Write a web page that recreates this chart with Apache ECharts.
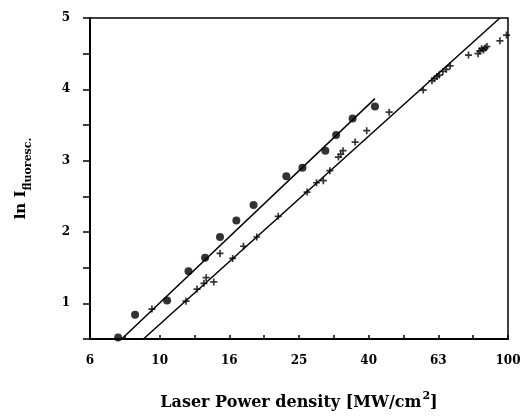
<!DOCTYPE html>
<html>
<head>
<meta charset="utf-8">
<script src="https://cdn.jsdelivr.net/npm/echarts@6/dist/echarts.min.js"></script>
<style>html,body{margin:0;padding:0;background:#fff;}#c{width:526px;height:416px;}</style>
</head>
<body>
<div id="c"></div>
<script>
// Laser power density (MW/cm^2) and ln I_fluoresc.
var circleX = [7.6, 8.5, 10.5, 12.1, 13.5, 14.9, 16.6, 18.6, 23.1, 25.7, 29.9, 32.1, 35.8, 41.5];
var circleY = [0.52, 0.84, 1.04, 1.45, 1.64, 1.93, 2.16, 2.38, 2.78, 2.90, 3.14, 3.36, 3.59, 3.76];
var plusX = [9.5, 11.9, 12.8, 13.4, 13.6, 14.3, 14.9, 16.2, 17.4, 19.0, 21.9, 26.5, 28.2, 29.5, 30.8, 32.6, 33.1, 33.6, 36.4, 39.3, 45.6, 57.1, 60.5, 61.5, 62.5, 63.5, 65, 66.5, 68.2, 77, 82, 83, 84, 85, 86, 87, 94.8, 99];
var plusY = [0.92, 1.03, 1.20, 1.28, 1.36, 1.30, 1.70, 1.63, 1.80, 1.93, 2.22, 2.56, 2.69, 2.72, 2.86, 3.05, 3.09, 3.14, 3.26, 3.42, 3.68, 3.99, 4.12, 4.15, 4.18, 4.20, 4.25, 4.28, 4.33, 4.48, 4.50, 4.54, 4.57, 4.55, 4.58, 4.60, 4.68, 4.76];
var circleFitX = [7.78, 41.5];
var circleFitY = [0.5, 3.87];
var plusFitX = [8.98, 94.8];
var plusFitY = [0.5, 5.0];
var xTickLabels = ['6', '10', '16', '25', '40', '63', '100'];
var yTickLabels = ['1', '2', '3', '4', '5'];

function pairs(xs, ys) {
  return xs.map(function (x, i) { return [Math.log10(x), ys[i]]; });
}

var FONT = 'DejaVu Serif';
var chart = echarts.init(document.getElementById('c'));
chart.setOption({
  animation: false,
  backgroundColor: '#fff',
  grid: { left: 90, right: 18, top: 18, bottom: 75, show: true, borderColor: '#000', borderWidth: 1.5, backgroundColor: 'transparent' },
  xAxis: {
    type: 'value', min: 0.8, max: 2.0, interval: 0.1,
    axisLine: { show: true, lineStyle: { color: '#000', width: 2 } },
    axisTick: { show: true, inside: true, length: 4, lineStyle: { color: '#000', width: 1.5 } },
    splitLine: { show: false },
    axisLabel: {
      margin: 16, color: '#000', fontFamily: FONT, fontWeight: 'bold', fontSize: 12,
      formatter: function (v) {
        var k = Math.round(v * 10) - 8;
        if (k % 2 !== 0) return '';
        return xTickLabels[k / 2] || '';
      }
    },
    name: '{a|Laser Power density [MW/cm}{s|2}{a|]}',
    nameLocation: 'middle', nameGap: 52,
    nameTextStyle: {
      rich: {
        a: { fontFamily: FONT, fontWeight: 'bold', fontSize: 16, color: '#000', verticalAlign: 'bottom', lineHeight: 20 },
        s: { fontFamily: FONT, fontWeight: 'bold', fontSize: 11, color: '#000', verticalAlign: 'top', lineHeight: 20, padding: [0, 0, 9, 1] }
      }
    }
  },
  yAxis: {
    type: 'value', min: 0.5, max: 5, interval: 0.5,
    axisLine: { show: true, lineStyle: { color: '#000', width: 2 } },
    axisTick: { show: true, inside: false, length: 7, lineStyle: { color: '#000', width: 1.5 } },
    splitLine: { show: false },
    axisLabel: {
      margin: 20, color: '#000', fontFamily: FONT, fontWeight: 'bold', fontSize: 12,
      formatter: function (v) {
        var r = Math.round(v * 2);
        if (r % 2 !== 0) return '';
        return yTickLabels[r / 2 - 1] || '';
      }
    },
    name: '{a|ln I}{s|fluoresc.}',
    nameLocation: 'middle', nameGap: 56, nameRotate: 90,
    nameTextStyle: {
      rich: {
        a: { fontFamily: FONT, fontWeight: 'bold', fontSize: 15, color: '#000', verticalAlign: 'top', lineHeight: 20 },
        s: { fontFamily: FONT, fontWeight: 'bold', fontSize: 11, color: '#000', verticalAlign: 'bottom', lineHeight: 20, padding: [8, 0, 0, 0] }
      }
    }
  },
  series: [
    {
      type: 'line', data: pairs(circleFitX, circleFitY), symbol: 'none',
      lineStyle: { color: '#000', width: 1.5 }
    },
    {
      type: 'line', data: pairs(plusFitX, plusFitY), symbol: 'none',
      lineStyle: { color: '#000', width: 1.5 }
    },
    {
      type: 'scatter', data: pairs(circleX, circleY), symbol: 'circle', symbolSize: 8,
      itemStyle: { color: '#000' }
    },
    {
      type: 'scatter', data: pairs(plusX, plusY),
      symbol: 'path://M3.8,0 L6.2,0 L6.2,3.8 L10,3.8 L10,6.2 L6.2,6.2 L6.2,10 L3.8,10 L3.8,6.2 L0,6.2 L0,3.8 L3.8,3.8 Z',
      symbolSize: 7, itemStyle: { color: '#000' }
    }
  ]
});
</script>
</body>
</html>
